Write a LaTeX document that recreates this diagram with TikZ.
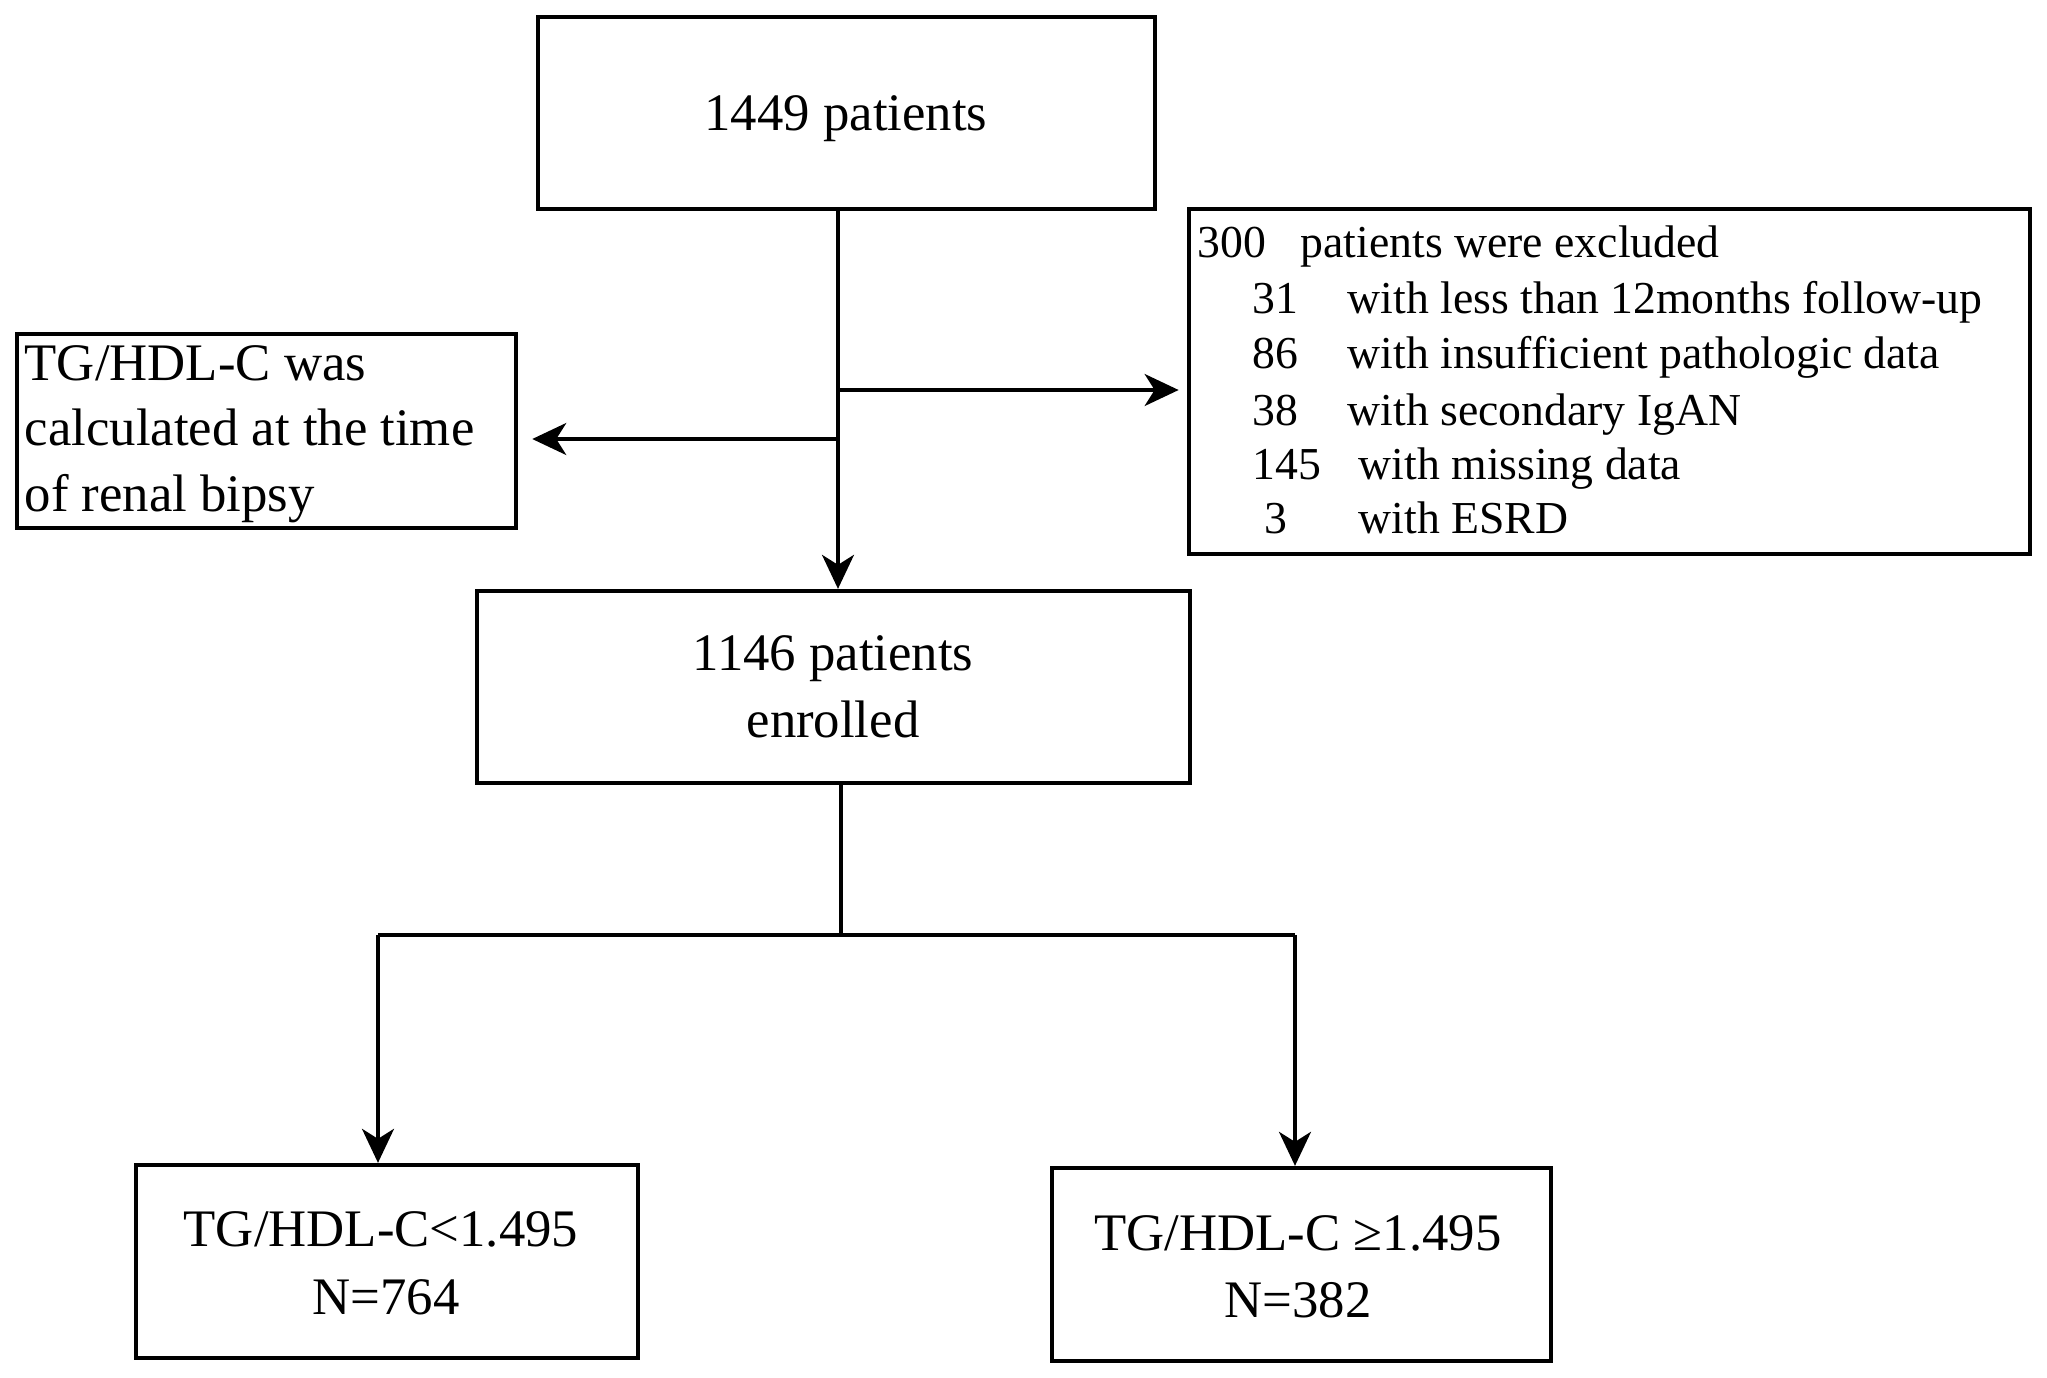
\documentclass[tikz,border=0pt]{standalone}
\usepackage{fontspec}
\setmainfont{Liberation Serif}
\usetikzlibrary{arrows.meta,calc}
\tikzset{
  box/.style={draw=black, line width=1.2pt, inner sep=0pt, fill=white},
  txt/.style={inner sep=0pt, font=\fontsize{15}{18}\selectfont},
  smalltxt/.style={inner sep=0pt, font=\fontsize{13}{16}\selectfont, anchor=base west},
  conn/.style={draw=black, line width=0.9pt},
  arr/.style={conn, -{Stealth[length=0.34cm, width=0.32cm, inset=0.1cm]}}
}
\begin{document}
\begin{tikzpicture}[x=0.01cm, y=-0.01cm]
\useasboundingbox[fill=white] (0,0) rectangle (2047,1378);

% boxes
\node[box, minimum width=6.17cm, minimum height=1.92cm] (top) at (846.5,113) {};
\node[box, minimum width=8.41cm, minimum height=3.45cm] (excl) at (1609.5,381.5) {};
\node[box, minimum width=4.99cm, minimum height=1.94cm] (calc) at (266.5,431) {};
\node[box, minimum width=7.13cm, minimum height=1.92cm] (mid) at (833.5,687) {};
\node[box, minimum width=5.02cm, minimum height=1.93cm] (bl) at (387,1261.5) {};
\node[box, minimum width=4.99cm, minimum height=1.93cm] (br) at (1301.5,1264.5) {};

% texts
\node[txt, anchor=base] (topt) at (846,130) {1449 patients};
\node[txt, anchor=base] (midt1) at (833,670) {1146 patients};
\node[txt, anchor=base] (midt2) at (833,737) {enrolled};
\node[txt, anchor=base] (blt1) at (381,1246) {TG/HDL-C<1.495};
\node[txt, anchor=base] (blt2) at (386,1314) {N=764};
\node[txt, anchor=base] (brt1) at (1298,1250) {TG/HDL-C ≥1.495};
\node[txt, anchor=base] (brt2) at (1298,1317) {N=382};
\node[txt, anchor=base west] (calct1) at (24,380) {TG/HDL-C was};
\node[txt, anchor=base west] (calct2) at (24,445) {calculated at the time};
\node[txt, anchor=base west] (calct3) at (24,511) {of renal bipsy};

\node[smalltxt] (ex0) at (1197,257) {\makebox[1.03cm][l]{300}patients were excluded};
\node[smalltxt] (ex1) at (1252,313) {\makebox[0.95cm][l]{31}with less than 12months follow-up};
\node[smalltxt] (ex2) at (1252,368) {\makebox[0.95cm][l]{86}with insufficient pathologic data};
\node[smalltxt] (ex3) at (1252,425) {\makebox[0.95cm][l]{38}with secondary IgAN};
\node[smalltxt] (ex4) at (1252,479) {\makebox[1.06cm][l]{145}with missing data};
\node[smalltxt] (ex5) at (1264,533) {\makebox[0.94cm][l]{3}with ESRD};

% connectors
\coordinate (spine) at (838,0);
\coordinate (jR) at (838,390);
\coordinate (jL) at (838,439);
\draw[arr] (top.south -| spine) -- (mid.north -| spine);
\draw[arr, shorten >=0.08cm] (jR) -- (jR -| excl.west);
\draw[arr, shorten >=0.14cm] (jL) -- (jL -| calc.east);

\coordinate (split) at (841,935);
\coordinate (brL) at (378,935);
\coordinate (brR) at (1295,935);
\draw[conn] (mid.south -| split) -- (split);
\draw[conn] (brL) -- (brR);
\draw[arr] (brL) -- (brL |- bl.north);
\draw[arr] (brR) -- (brR |- br.north);
\end{tikzpicture}
\end{document}
